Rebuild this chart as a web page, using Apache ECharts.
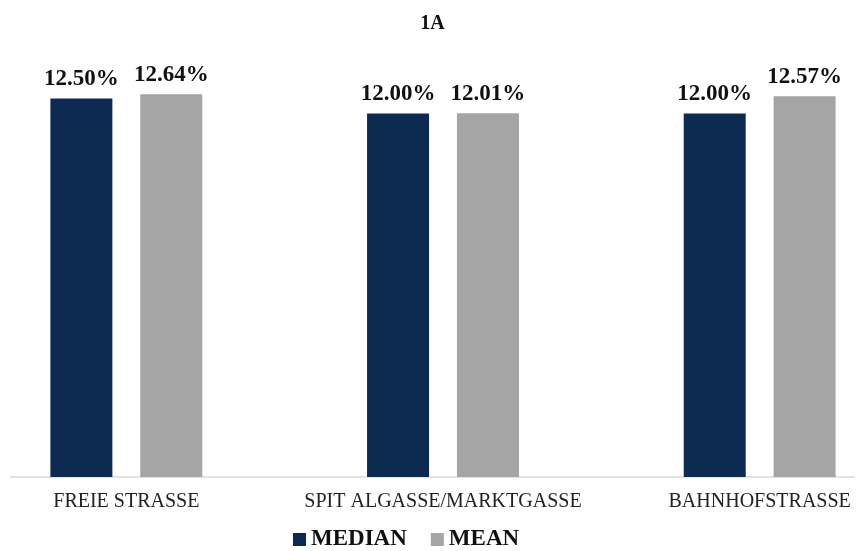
<!DOCTYPE html>
<html>
<head>
<meta charset="utf-8">
<style>
  html, body { margin: 0; padding: 0; background: #fff; }
  #chart { width: 865px; height: 551px; }
</style>
<script src="https://cdn.jsdelivr.net/npm/echarts@6/dist/echarts.min.js"></script>
</head>
<body>
<div id="chart"></div>
<script>
// Shopping streets and their median / mean values (percent)
const streets = ['FREIE STRASSE', 'SPITALGASSE/MARKTGASSE', 'BAHNHOFSTRASSE'];
const streetLabels = ['FREIE STRASSE', 'SPIT ALGASSE/MARKTGASSE', 'BAHNHOFSTRASSE'];
const medianValues = [12.50, 12.00, 12.00];
const meanValues = [12.64, 12.01, 12.57];
const seriesNames = ['MEDIAN', 'MEAN'];

const serif = '"Liberation Serif", "DejaVu Serif", serif';
const navy = '#0d2b52';
const grey = '#a5a5a5';

const chart = echarts.init(document.getElementById('chart'));

const valueLabel = {
  show: true,
  position: 'top',
  distance: 8,
  fontFamily: serif,
  fontWeight: 'bold',
  fontSize: 23,
  color: '#111',
  formatter: p => p.value.toFixed(2) + '%'
};

chart.setOption({
  animation: false,
  title: {
    text: '1A',
    left: 'center',
    top: 9,
    textStyle: { fontFamily: serif, fontWeight: 'bold', fontSize: 20, color: '#111' }
  },
  legend: {
    data: seriesNames,
    top: 528,
    left: 293,
    padding: 0,
    itemWidth: 13,
    itemHeight: 13,
    itemGap: 24,
    icon: 'rect',
    textStyle: { fontFamily: serif, fontWeight: 'bold', fontSize: 23, color: '#111' }
  },
  grid: { left: -32, right: -53, top: 53, bottom: 74, outerBoundsMode: 'none', containLabel: false },
  xAxis: {
    type: 'category',
    data: streets,
    axisLine: { show: false },
    axisTick: { show: false },
    axisLabel: {
      interval: 0,
      margin: 15,
      fontFamily: serif,
      fontSize: 20,
      color: '#222',
      formatter: (v, i) => streetLabels[i]
    }
  },
  yAxis: {
    type: 'value',
    min: 0,
    max: 14,
    show: false,
    splitLine: { show: false }
  },
  graphic: [{
    type: 'line',
    shape: { x1: 10, y1: 477, x2: 855, y2: 477 },
    style: { stroke: '#d9d9d9', lineWidth: 1.5 },
    z: 0
  }],
  series: [
    {
      name: seriesNames[0],
      type: 'bar',
      data: medianValues,
      barWidth: 62,
      barGap: '45%',
      itemStyle: { color: navy },
      label: valueLabel
    },
    {
      name: seriesNames[1],
      type: 'bar',
      data: meanValues,
      barWidth: 62,
      itemStyle: { color: grey },
      label: valueLabel
    }
  ]
});
</script>
</body>
</html>
